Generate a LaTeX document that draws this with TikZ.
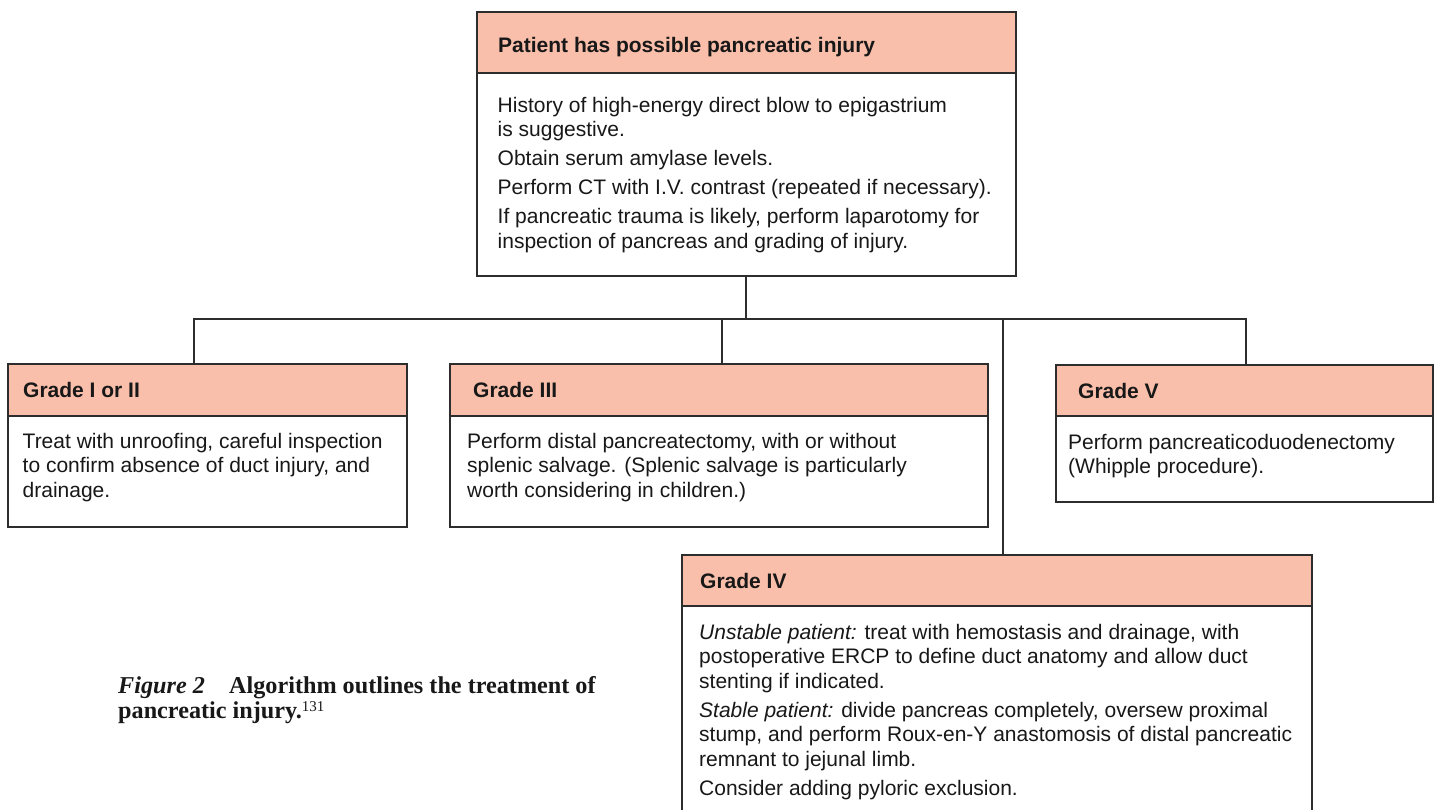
\documentclass[tikz,border=0pt]{standalone}
\usepackage{fontspec}
\setmainfont{Liberation Sans}
\newfontfamily\capfont{Liberation Serif}
\definecolor{hdrfill}{RGB}{249,191,170}
\definecolor{edge}{RGB}{45,45,45}
\definecolor{ink}{RGB}{24,24,24}
\newcommand\boxheadfont{\fontsize{21}{25}\selectfont\bfseries}
\newcommand\boxbodyfont{\fontsize{21}{24.5}\selectfont}
\newcommand\capsize{\fontsize{24.2}{25}\selectfont}
\begin{document}
\begin{tikzpicture}[x=1pt,y=-1pt,
  box/.style={draw=edge,line width=1.1pt,anchor=north west,inner sep=0pt,outer sep=0pt},
  hdr/.style={box,fill=hdrfill},
  lbl/.style={anchor=base west,inner sep=0pt,font=\boxheadfont,text=ink},
  % multi-line texts are placed by the baseline of their last line
  txt/.style={anchor=base west,inner sep=0pt,align=left,font=\boxbodyfont,text=ink},
  wire/.style={draw=edge,line width=1.1pt,line join=miter}]
\fill[white] (0,0) rectangle (1441,810);
\clip (0,0) rectangle (1441,810);

% top box: suspected injury
\node[hdr,minimum width=539pt,minimum height=61pt] (topH) at (477,12) {};
\node[box,minimum width=539pt,minimum height=203pt] (topB) at (477,73) {};
\node[lbl] (topL) at (498,52.5) {Patient has possible pancreatic injury};
\node[txt] (topT) at (497.5,248.5) {History of high-energy direct blow to epigastrium\\
is suggestive.\\[4.5pt]
Obtain serum amylase levels.\\[4.5pt]
Perform CT with I.V. contrast (repeated if necessary).\\[4.5pt]
If pancreatic trauma is likely, perform laparotomy for\\
inspection of pancreas and grading of injury.};

% grade I or II
\node[hdr,minimum width=399pt,minimum height=52pt] (g1H) at (8,364) {};
\node[box,minimum width=399pt,minimum height=111pt] (g1B) at (8,416) {};
\node[lbl] (g1L) at (23,397) {Grade I or II};
\node[txt] (g1T) at (22.5,497) {Treat with unroofing, careful inspection\\
to confirm absence of duct injury, and\\
drainage.};

% grade III
\node[hdr,minimum width=538pt,minimum height=52pt] (g3H) at (450,364) {};
\node[box,minimum width=538pt,minimum height=111pt] (g3B) at (450,416) {};
\node[lbl] (g3L) at (473,397) {Grade III};
\node[txt] (g3T) at (467,497) {Perform distal pancreatectomy, with or without\\
splenic salvage. (Splenic salvage is particularly\\
worth considering in children.)};

% grade V
\node[hdr,minimum width=377pt,minimum height=51pt] (g5H) at (1056,365) {};
\node[box,minimum width=377pt,minimum height=86pt] (g5B) at (1056,416) {};
\node[lbl] (g5L) at (1078,399) {Grade V};
\node[txt] (g5T) at (1068,473.5) {Perform pancreaticoduodenectomy\\
(Whipple procedure).};

% grade IV
\node[hdr,minimum width=630pt,minimum height=51pt] (g4H) at (682,555) {};
\node[box,minimum width=630pt,minimum height=240pt] (g4B) at (682,606) {};
\node[lbl] (g4L) at (700,588) {Grade IV};
\node[txt] (g4T) at (699,795) {\textit{Unstable patient:} treat with hemostasis and drainage, with\\
postoperative ERCP to define duct anatomy and allow duct\\
stenting if indicated.\\[4.5pt]
\textit{Stable patient:} divide pancreas completely, oversew proximal\\
stump, and perform Roux-en-Y anastomosis of distal pancreatic\\
remnant to jejunal limb.\\[4.5pt]
Consider adding pyloric exclusion.};

% caption
\node[anchor=base west,inner sep=0pt,align=left,font=\capfont\capsize\bfseries,text=ink] (cap) at (118,718)
  {\textit{Figure 2}\quad Algorithm outlines the treatment of\\
   pancreatic injury.\raisebox{7pt}{\fontsize{15}{15}\selectfont\mdseries 131}};

% connectors
\coordinate (bus) at (746,319);
\coordinate (b1) at (194,319);
\coordinate (b3) at (722,319);
\coordinate (b4) at (1003,319);
\coordinate (b5) at (1246,319);
\draw[wire] (bus |- topB.south) -- (bus);
\draw[wire] (b1 |- g1H.north) -- (b1) -- (b5) -- (b5 |- g5H.north);
\draw[wire] (b3) -- (b3 |- g3H.north);
\draw[wire] (b4) -- (b4 |- g4H.north);
\end{tikzpicture}
\end{document}
